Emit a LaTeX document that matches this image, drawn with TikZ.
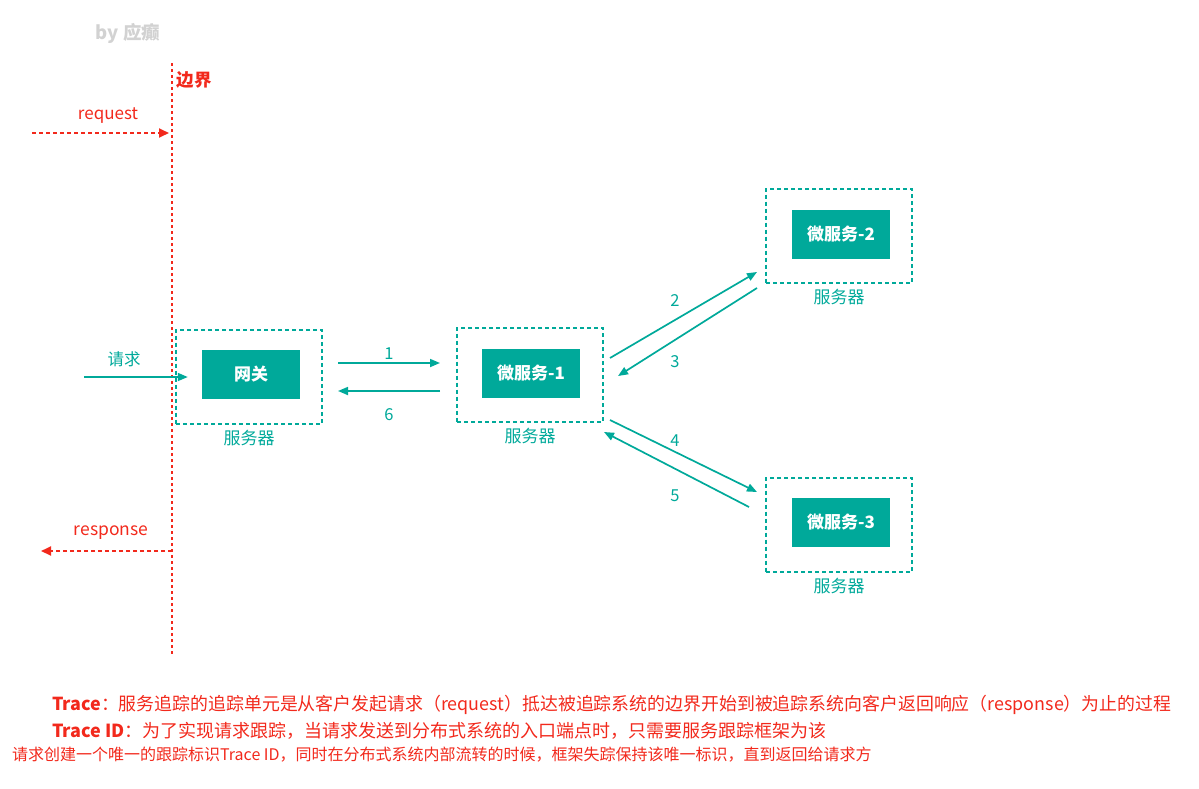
\documentclass[tikz,border=0pt]{standalone}
\usepackage{fontspec}
\setmainfont{Noto Sans CJK SC}
\usepackage{xcolor}
\usetikzlibrary{arrows.meta,positioning}
\definecolor{svcteal}{HTML}{00A99A}
\definecolor{edgered}{HTML}{F2291C}

\begin{document}
\begin{tikzpicture}[x=1pt, y=-1pt, font=\fontsize{16.5}{19}\selectfont, node distance=2pt,
  svc/.style={fill=svcteal, text=white, font=\fontsize{17}{20}\selectfont\bfseries,
    minimum width=98pt, minimum height=49pt, inner sep=0pt},
  host/.style={draw=svcteal, line width=2pt, dash pattern=on 4pt off 3pt,
    minimum width=146pt, minimum height=94pt, inner sep=0pt},
  hostlabel/.style={text=svcteal, inner sep=1pt, font=\fontsize{17}{20}\selectfont},
  flow/.style={svcteal, line width=1.7pt, -{Triangle[length=10pt,width=8pt]}},
  flowlabel/.style={text=svcteal, inner sep=1pt},
  border/.style={edgered, line width=2pt, dash pattern=on 3pt off 3pt},
  crossing/.style={edgered, line width=1.8pt, dash pattern=on 4pt off 3pt, -{Triangle[length=10pt,width=9pt]}},
  note/.style={text=edgered, anchor=west, inner sep=0pt}]
  \useasboundingbox (0,0) rectangle (1199,788);

  % Nodes
  \node[text=gray!35, font=\fontsize{18.5}{21}\selectfont\bfseries] (sign) at (128,33) {by 应癫};

  \node[host] (gwhost) at (249,376.5) {};
  \node[svc] (gw) at (251,374.5) {网关};
  \node[hostlabel, below=4pt of gwhost] (gwlabel) {服务器};

  \node[host] (ms1host) at (530,374.5) {};
  \node[svc] (ms1) at (531,373.5) {微服务-1};
  \node[hostlabel, below=4pt of ms1host] (ms1label) {服务器};

  \node[host] (ms2host) at (839,235.5) {};
  \node[svc] (ms2) at (841,234.5) {微服务-2};
  \node[hostlabel, below=4pt of ms2host] (ms2label) {服务器};

  \node[host] (ms3host) at (839,524.5) {};
  \node[svc] (ms3) at (841,522.5) {微服务-3};
  \node[hostlabel, below=4pt of ms3host] (ms3label) {服务器};

  % boundary
  \coordinate (bndtop) at (172,63);
  \coordinate (bndbot) at (172,655);
  \draw[border] (bndtop) -- (bndbot);
  \node[text=edgered, font=\fontsize{17.5}{20}\selectfont\bfseries] (bndlabel) at (194,80) {边界};

  \coordinate (reqsrc) at (32,133);
  \coordinate (respdst) at (41,551);
  \draw[crossing, shorten >=3pt] (reqsrc) -- (reqsrc -| bndtop);
  \draw[crossing] (respdst -| bndtop) -- (respdst);
  \node[text=edgered, font=\fontsize{17}{20}\selectfont] (reqlabel) at (108,116) {request};
  \node[text=edgered, font=\fontsize{17.5}{20}\selectfont] (resplabel) at (111,533) {response};

  % client call
  \coordinate (client) at (84,377);
  \draw[flow, shorten >=14pt] (client) -- (client -| gw.west);
  \node[flowlabel] (clientlabel) at (124,359) {请求};

  % Arrows
  \draw[flow, shorten <=15pt, shorten >=16pt] ([yshift=13.5pt]gwhost.east) -- ([yshift=11.5pt]ms1host.west);
  \draw[flow, shorten <=16pt, shorten >=15pt] ([yshift=-16.5pt]ms1host.west) -- ([yshift=-14.5pt]gwhost.east);
  \node[flowlabel] (n1) at (389,354) {1};
  \node[flowlabel] (n6) at (389,415) {6};

  \coordinate (c2a) at (610,358);
  \coordinate (c2b) at (757,272);
  \coordinate (c3a) at (757,288);
  \coordinate (c3b) at (618,376);
  \coordinate (c4a) at (610,420);
  \coordinate (c4b) at (757,492);
  \coordinate (c5a) at (749,507);
  \coordinate (c5b) at (604,432);
  \draw[flow] (c2a) -- (c2b);
  \draw[flow] (c3a) -- (c3b);
  \draw[flow] (c4a) -- (c4b);
  \draw[flow] (c5a) -- (c5b);
  \node[flowlabel] (n2) at (675,301) {2};
  \node[flowlabel] (n3) at (675,362) {3};
  \node[flowlabel] (n4) at (675,441) {4};
  \node[flowlabel] (n5) at (675,496) {5};

  % Legend callouts
  \node[note, font=\fontsize{17.9}{20}\selectfont] (tracedef) at (52,705)
    {\textbf{Trace}：服务追踪的追踪单元是从客户发起请求（request）抵达被追踪系统的边界开始到被追踪系统向客户返回响应（response）为止的过程};
  \node[note, font=\fontsize{18}{20}\selectfont] (iddef) at (52,731)
    {\textbf{Trace ID}：为了实现请求跟踪，当请求发送到分布式系统的入口端点时，只需要服务跟踪框架为该};
  \node[note, font=\fontsize{16}{18}\selectfont] (iddefcont) at (12,755)
    {请求创建一个唯一的跟踪标识Trace ID，同时在分布式系统内部流转的时候，框架失踪保持该唯一标识，直到返回给请求方};
\end{tikzpicture}
\end{document}
